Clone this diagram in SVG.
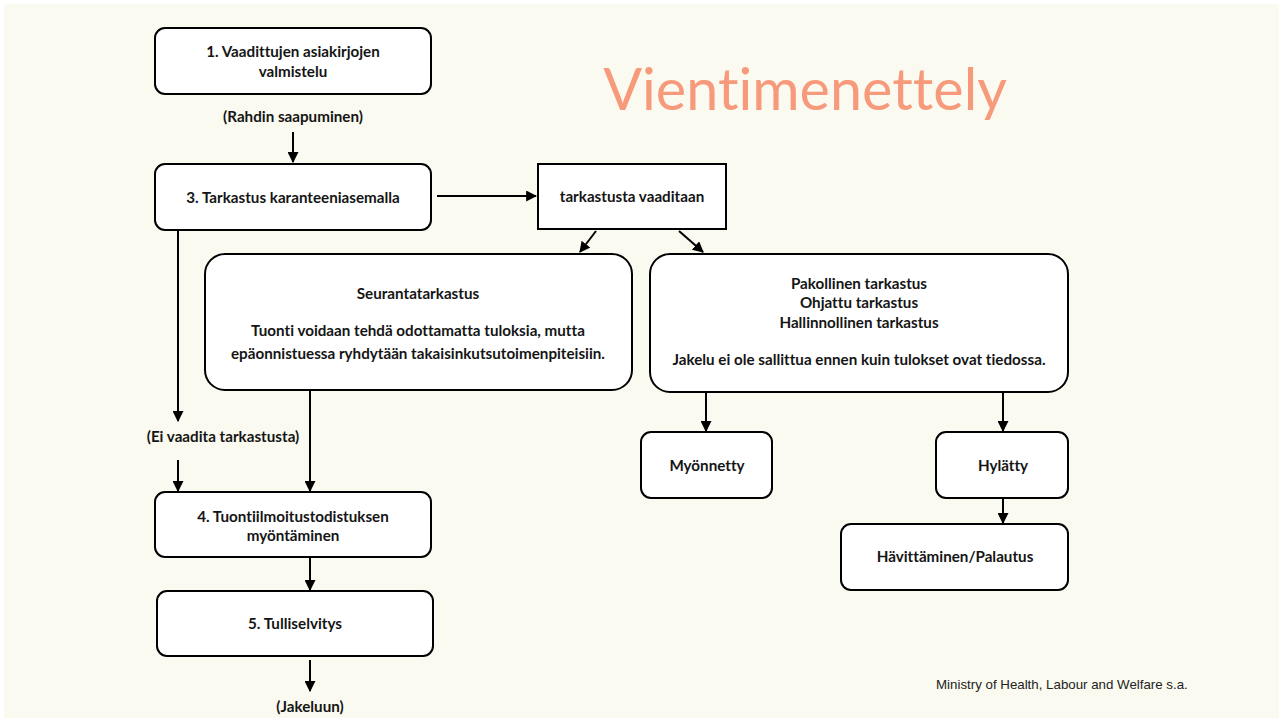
<svg xmlns="http://www.w3.org/2000/svg" width="1283" height="722" viewBox="0 0 1283 722">
  <style>
    .node rect { fill: #ffffff; stroke: #000000; stroke-width: 2; }
    .lbl { font-family: Lato, "Open Sans", "Liberation Sans", sans-serif; font-weight: bold; font-size: 15.2px; fill: #151515; text-anchor: middle; font-variant-ligatures: none; }
    .conn line { stroke: #000000; stroke-width: 2; }
  </style>
  <defs>
    <marker id="arrow" viewBox="0 0 10 10" refX="9" refY="5" markerWidth="5.5" markerHeight="5.5" orient="auto" markerUnits="strokeWidth">
      <path d="M0,0 L10,5 L0,10 z" fill="#000000"/>
    </marker>
  </defs>

  <!-- page background -->
  <rect x="0" y="0" width="1283" height="722" fill="#ffffff"/>
  <rect x="4" y="4" width="1275" height="714" fill="#fafaf0"/>

  <!-- title -->
  <text x="805" y="110" font-family="Lato, 'Open Sans', 'Liberation Sans', sans-serif" font-size="57.5" fill="#f79a7c" text-anchor="middle" style="font-variant-ligatures: none">Vientimenettely</text>

  <!-- connectors -->
  <g class="conn">
    <line x1="293" y1="132" x2="293" y2="162" marker-end="url(#arrow)"/>
    <line x1="437" y1="196" x2="536" y2="196" marker-end="url(#arrow)"/>
    <line x1="596" y1="231" x2="580" y2="252" marker-end="url(#arrow)"/>
    <line x1="679" y1="231" x2="703" y2="252" marker-end="url(#arrow)"/>
    <line x1="178" y1="231" x2="178" y2="421" marker-end="url(#arrow)"/>
    <line x1="178" y1="460" x2="178" y2="491" marker-end="url(#arrow)"/>
    <line x1="310" y1="391" x2="310" y2="491" marker-end="url(#arrow)"/>
    <line x1="310" y1="558" x2="310" y2="590" marker-end="url(#arrow)"/>
    <line x1="310" y1="660" x2="310" y2="691" marker-end="url(#arrow)"/>
    <line x1="706" y1="392" x2="706" y2="431" marker-end="url(#arrow)"/>
    <line x1="1003" y1="392" x2="1003" y2="431" marker-end="url(#arrow)"/>
    <line x1="1003" y1="498" x2="1003" y2="523" marker-end="url(#arrow)"/>
  </g>

  <!-- free labels -->
  <text class="lbl" x="293" y="122">(Rahdin saapuminen)</text>
  <text class="lbl" x="223" y="442">(Ei vaadita tarkastusta)</text>
  <text class="lbl" x="310" y="712">(Jakeluun)</text>

  <g id="n1" class="node">
    <rect x="155" y="28" width="276" height="66" rx="10"/>
    <text class="lbl" x="293" y="57">1. Vaadittujen asiakirjojen</text>
    <text class="lbl" x="293" y="77">valmistelu</text>
  </g>

  <g id="n3" class="node">
    <rect x="155" y="164" width="276" height="66" rx="10"/>
    <text class="lbl" x="293" y="203">3. Tarkastus karanteeniasemalla</text>
  </g>

  <g id="required" class="node">
    <rect x="538" y="164" width="188" height="65"/>
    <text class="lbl" x="632" y="202">tarkastusta vaaditaan</text>
  </g>

  <g id="monitoring" class="node">
    <rect x="205" y="254" width="427" height="136" rx="20"/>
    <text class="lbl" x="418" y="299">Seurantatarkastus</text>
    <text class="lbl" x="418" y="336">Tuonti voidaan tehdä odottamatta tuloksia, mutta</text>
    <text class="lbl" x="418" y="359">epäonnistuessa ryhdytään takaisinkutsutoimenpiteisiin.</text>
  </g>

  <g id="mandatory" class="node">
    <rect x="650" y="254" width="418" height="138" rx="20"/>
    <text class="lbl" x="859" y="289">Pakollinen tarkastus</text>
    <text class="lbl" x="859" y="308">Ohjattu tarkastus</text>
    <text class="lbl" x="859" y="328">Hallinnollinen tarkastus</text>
    <text class="lbl" x="859" y="365">Jakelu ei ole sallittua ennen kuin tulokset ovat tiedossa.</text>
  </g>

  <g id="n4" class="node">
    <rect x="155" y="492" width="276" height="65" rx="10"/>
    <text class="lbl" x="293" y="522">4. Tuontiilmoitustodistuksen</text>
    <text class="lbl" x="293" y="541">myöntäminen</text>
  </g>

  <g id="n5" class="node">
    <rect x="157" y="591" width="276" height="65" rx="10"/>
    <text class="lbl" x="295" y="629">5. Tulliselvitys</text>
  </g>

  <g id="approved" class="node">
    <rect x="641" y="432" width="131" height="66" rx="10"/>
    <text class="lbl" x="707" y="471">Myönnetty</text>
  </g>

  <g id="rejected" class="node">
    <rect x="936" y="432" width="132" height="66" rx="10"/>
    <text class="lbl" x="1003" y="471">Hylätty</text>
  </g>

  <g id="disposal" class="node">
    <rect x="841" y="524" width="227" height="66" rx="10"/>
    <text class="lbl" x="955" y="562">Hävittäminen/Palautus</text>
  </g>

  <!-- source note -->
  <text x="936" y="689" font-family="'Liberation Sans', Arial, sans-serif" font-size="13.3" fill="#222222">Ministry of Health, Labour and Welfare s.a.</text>
</svg>
